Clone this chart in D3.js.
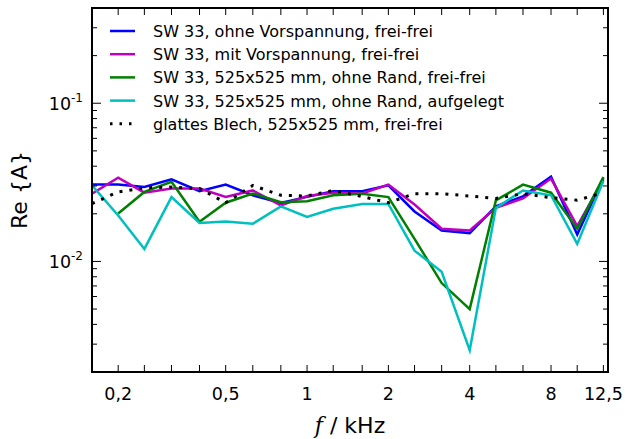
<!DOCTYPE html>
<html>
<head>
<meta charset="utf-8">
<script src="https://cdn.jsdelivr.net/npm/d3@7"></script>
<style>
  body { margin: 0; background: #fff; }
  text { font-family: "DejaVu Sans", sans-serif; fill: #000; }
</style>
</head>
<body>
<script>
// third-octave band centres in kHz
var freqs = [0.16, 0.2, 0.25, 0.315, 0.4, 0.5, 0.63, 0.8, 1, 1.25, 1.6, 2, 2.5, 3.15, 4, 5, 6.3, 8, 10, 12.5];

var ohneVorspannung = [0.0306, 0.0306, 0.0296, 0.0330, 0.0278, 0.0306, 0.0262, 0.0234, 0.0256, 0.0278, 0.0278, 0.0303, 0.0207, 0.0157, 0.0151, 0.0223, 0.0258, 0.0343, 0.0148, 0.0338];
var mitVorspannung = [0.0268, 0.0338, 0.0272, 0.0289, 0.0289, 0.0256, 0.0281, 0.0226, 0.0259, 0.0272, 0.0269, 0.0306, 0.0229, 0.0161, 0.0157, 0.0218, 0.0250, 0.0334, 0.0167, 0.0330];
var randFreiFrei = [null, 0.0201, 0.0275, 0.0319, 0.0178, 0.0235, 0.0269, 0.0237, 0.0240, 0.0262, 0.0268, 0.0255, 0.0139, 0.0073, 0.0050, 0.0243, 0.0306, 0.0272, 0.0161, 0.0341];
var randAufgelegt = [0.0303, 0.0195, 0.0120, 0.0255, 0.0175, 0.0179, 0.0173, 0.0223, 0.0191, 0.0215, 0.0231, 0.0231, 0.0117, 0.0086, 0.00275, 0.0218, 0.0281, 0.0262, 0.0129, 0.0322];
var glattesBlech = [0.0232, 0.0275, 0.0292, 0.0295, 0.0289, 0.0235, 0.0302, 0.0262, 0.0259, 0.0281, 0.0257, 0.0235, 0.0268, 0.0268, 0.0259, 0.0250, 0.0268, 0.0253, 0.0244, 0.0272];

var seriesNames = [
  "SW 33, ohne Vorspannung, frei-frei",
  "SW 33, mit Vorspannung, frei-frei",
  "SW 33, 525x525 mm, ohne Rand, frei-frei",
  "SW 33, 525x525 mm, ohne Rand, aufgelegt",
  "glattes Blech, 525x525 mm, frei-frei"
];
var xTickLabels = [0.2, 0.5, 1, 2, 4, 8, 12.5];
var yMajor = [0.01, 0.1];

var w = 625,
    h = 439;
// plot frame (don't use "top" - clashes with window.top)
var pL = 92, pR = 608, pT = 8, pB = 372;

var svg = d3.select('body').append('svg').attr("width", w).attr("height", h);

var x = d3.scaleLog().domain([0.16, 13]).range([pL, pR]);
var y = d3.scaleLog().domain([0.002, 0.4]).range([pB, pT]);

var series = [
  { name: seriesNames[0], vals: ohneVorspannung, color: "#0000ff" },
  { name: seriesNames[1], vals: mitVorspannung, color: "#bf00bf" },
  { name: seriesNames[2], vals: randFreiFrei, color: "#008000" },
  { name: seriesNames[3], vals: randAufgelegt, color: "#00bfbf" },
  { name: seriesNames[4], vals: glattesBlech, color: "#000000", dash: "3,7" }
];

// clip so lines stay inside the frame
svg.append("clipPath").attr("id", "plotclip")
  .append("rect").attr("x", pL).attr("y", pT)
  .attr("width", pR - pL).attr("height", pB - pT);

var line = d3.line()
  .defined(function(d) { return d[1] != null; })
  .x(function(d) { return x(d[0]); })
  .y(function(d) { return y(d[1]); });

var gLines = svg.append("g").attr("clip-path", "url(#plotclip)");
series.forEach(function(s) {
  var pts = freqs.map(function(f, i) { return [f, s.vals[i]]; });
  gLines.append("path")
    .attr("d", line(pts))
    .attr("fill", "none")
    .attr("stroke", s.color)
    .attr("stroke-width", s.dash ? 3 : 2.5)
    .attr("stroke-dasharray", s.dash || null)
    .attr("stroke-linejoin", "miter");
});

// ticks - all inward, on all four sides
var gTicks = svg.append("g").attr("stroke", "#000").attr("stroke-width", 1);
freqs.forEach(function(f) {
  gTicks.append("line").attr("x1", x(f)).attr("x2", x(f)).attr("y1", pB).attr("y2", pB - 7);
  gTicks.append("line").attr("x1", x(f)).attr("x2", x(f)).attr("y1", pT).attr("y2", pT + 7);
});

var yMinor = [];
[0.001, 0.01, 0.1].forEach(function(dec) {
  for (var k = 2; k <= 9; k++) {
    var v = k * dec;
    if (v >= 0.002 && v <= 0.4) yMinor.push(v);
  }
});
yMajor.forEach(function(v) {
  gTicks.append("line").attr("x1", pL).attr("x2", pL + 9).attr("y1", y(v)).attr("y2", y(v));
  gTicks.append("line").attr("x1", pR).attr("x2", pR - 9).attr("y1", y(v)).attr("y2", y(v));
});
yMinor.forEach(function(v) {
  gTicks.append("line").attr("x1", pL).attr("x2", pL + 5).attr("y1", y(v)).attr("y2", y(v));
  gTicks.append("line").attr("x1", pR).attr("x2", pR - 5).attr("y1", y(v)).attr("y2", y(v));
});

// frame
svg.append("rect")
  .attr("x", pL).attr("y", pT)
  .attr("width", pR - pL).attr("height", pB - pT)
  .attr("fill", "none").attr("stroke", "#000").attr("stroke-width", 2);

// x tick labels
svg.append("g").selectAll("text").data(xTickLabels).enter().append("text")
  .attr("x", function(d) { return x(d); })
  .attr("y", pB + 28)
  .attr("text-anchor", "middle")
  .style("font-size", "17.5px")
  .text(function(d) { return String(d).replace(".", ","); });

// y tick labels 10^-n
yMajor.forEach(function(v) {
  var t = svg.append("text")
    .attr("x", pL - 9)
    .attr("y", y(v) + 7)
    .attr("text-anchor", "end")
    .style("font-size", "17.5px");
  t.append("tspan").text("10");
  t.append("tspan").attr("dy", -8).style("font-size", "12px").text(String(Math.round(Math.log10(v))));
});

// axis labels
var xl = svg.append("text")
  .attr("x", (pL + pR) / 2)
  .attr("y", 433)
  .attr("text-anchor", "middle")
  .style("font-size", "22px");
xl.append("tspan").style("font-family", "DejaVu Serif").style("font-style", "italic").text("f");
xl.append("tspan").text(" / kHz");

svg.append("text")
  .attr("transform", "translate(27," + ((pT + pB) / 2) + ") rotate(-90)")
  .attr("text-anchor", "middle")
  .style("font-size", "22px")
  .text("Re {A}");

// legend, no frame
var legend = svg.append("g");
series.forEach(function(s, i) {
  var ly = 31 + i * 23.2;
  legend.append("line")
    .attr("x1", 110).attr("x2", 135)
    .attr("y1", ly).attr("y2", ly)
    .attr("stroke", s.color)
    .attr("stroke-width", s.dash ? 3 : 2.5)
    .attr("stroke-dasharray", s.dash ? "2.5,7" : null);
  legend.append("text")
    .attr("x", 153).attr("y", ly + 6)
    .style("font-size", "16px")
    .text(s.name);
});
</script>
</body>
</html>
